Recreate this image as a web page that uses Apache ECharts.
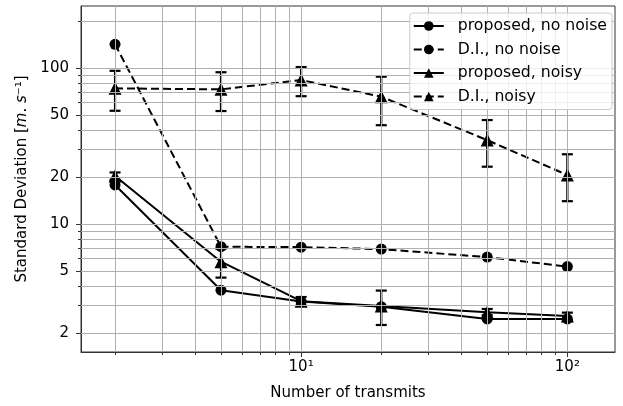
<!DOCTYPE html>
<html>
<head>
<meta charset="utf-8">
<script src="https://cdn.jsdelivr.net/npm/echarts@6/dist/echarts.min.js"></script>
<style>
  html, body { margin: 0; padding: 0; background: #fff; }
  #chart { width: 623px; height: 406px; }
</style>
</head>
<body>
<div id="chart"></div>
<script>
// number of transmits
var transmits = [2, 5, 10, 20, 50, 100];

// standard deviation values
var propNoNoise = [17.8, 3.76, 3.18, 2.95, 2.46, 2.46];
var diNoNoise = [142, 7.15, 7.1, 6.9, 6.13, 5.33];
var propNoisy = [20.3, 5.73, 3.2, 2.98, 2.72, 2.57];
var propNoisyLow = [19.2, 4.53, 3.0, 2.25, 2.6, 2.42];
var propNoisyHigh = [21.4, 6.93, 3.4, 3.74, 2.85, 2.7];
var diNoisy = [74.1, 73, 83.8, 65.5, 34.5, 20.6];
var diNoisyLow = [53.2, 53, 66, 43, 23.3, 14];
var diNoisyHigh = [96, 94, 101.5, 88, 46.4, 28];

// tick labels / grid positions
var yTickLabels = [2, 5, 10, 20, 50, 100];
var yMinorTicks = [3, 4, 6, 7, 8, 9, 30, 40, 60, 70, 80, 90, 200];
var xMinorTicks = [2, 3, 4, 5, 6, 7, 8, 9, 20, 30, 40, 50, 60, 70, 80, 90];
var yGrid = [2, 3, 4, 5, 6, 7, 8, 9, 10, 20, 30, 40, 50, 60, 70, 80, 90, 100, 200];
var xGrid = [2, 3, 4, 5, 6, 7, 8, 9, 10, 20, 30, 40, 50, 60, 70, 80, 90, 100];

var font = 'DejaVu Sans';
var xMin = 1.49, xMax = 151;
var yMin = 1.51, yMax = 250;

function pairs(xs, ys) {
    var out = [];
    for (var i = 0; i < xs.length; i++) {
        out.push([xs[i], ys[i]]);
    }
    return out;
}

function triples(xs, lo, hi) {
    var out = [];
    for (var i = 0; i < xs.length; i++) {
        out.push([xs[i], lo[i], hi[i]]);
    }
    return out;
}

// vertical error bar with caps
function errorBar(params, api) {
    var x = api.value(0);
    var p1 = api.coord([x, api.value(1)]);
    var p2 = api.coord([x, api.value(2)]);
    var hw = 5.5;
    var style = { stroke: '#000', lineWidth: 2.2 };
    return {
        type: 'group',
        children: [
            { type: 'line', shape: { x1: p1[0], y1: p1[1], x2: p2[0], y2: p2[1] }, style: style },
            { type: 'line', shape: { x1: p1[0] - hw, y1: p1[1], x2: p1[0] + hw, y2: p1[1] }, style: style },
            { type: 'line', shape: { x1: p2[0] - hw, y1: p2[1], x2: p2[0] + hw, y2: p2[1] }, style: style }
        ]
    };
}

var gridLines = [];
for (var i = 0; i < yGrid.length; i++) gridLines.push({ yAxis: yGrid[i] });
for (var j = 0; j < xGrid.length; j++) gridLines.push({ xAxis: xGrid[j] });

var supers = { 1: '\u00b9', 2: '\u00b2', 0: '\u2070' };

var chart = echarts.init(document.getElementById('chart'));
var option = {
    animation: false,
    textStyle: { fontFamily: font },
    grid: {
        left: 81, right: 8, top: 6, bottom: 54,
        show: true, borderColor: '#333', borderWidth: 1
    },
    legend: {
        orient: 'vertical',
        right: 11,
        top: 13,
        z: 10,
        data: ['proposed, no noise', 'D.I., no noise', 'proposed, noisy', 'D.I., noisy'],
        itemWidth: 30,
        itemHeight: 12,
        itemGap: 7.5,
        padding: [5, 5, 5, 3],
        borderColor: '#cccccc',
        borderWidth: 1,
        borderRadius: 3,
        backgroundColor: 'rgba(255,255,255,0.8)',
        textStyle: { fontFamily: font, fontSize: 15.7, color: '#000', padding: [0, 0, 0, 9] }
    },
    xAxis: [{
        type: 'log',
        min: xMin,
        max: xMax,
        name: 'Number of transmits',
        nameLocation: 'middle',
        nameGap: 34,
        nameTextStyle: { fontFamily: font, fontSize: 15, color: '#000' },
        axisLine: { show: true, lineStyle: { color: '#333', width: 1 } },
        axisTick: { show: true, length: 5, customValues: [10, 100], lineStyle: { color: '#333' } },
        axisLabel: {
            fontFamily: font, fontSize: 15, color: '#000', margin: 8,
            customValues: [10, 100],
            formatter: function (v) {
                var e = Math.round(Math.log(v) / Math.LN10);
                return '10' + (supers[e] || '');
            }
        },
        splitLine: { show: false }
    }, {
        // minor ticks only
        type: 'log',
        min: xMin,
        max: xMax,
        position: 'bottom',
        axisLine: { show: false },
        axisTick: { show: true, length: 3, customValues: xMinorTicks, lineStyle: { color: '#333' } },
        axisLabel: { show: false },
        splitLine: { show: false }
    }],
    yAxis: [{
        type: 'log',
        min: yMin,
        max: yMax,
        name: 'Standard Deviation [{i|m}. {i|s}\u207b\u00b9]',
        nameLocation: 'middle',
        nameGap: 48,
        nameTextStyle: {
            fontFamily: font, fontSize: 15, color: '#000',
            rich: { i: { fontFamily: font, fontSize: 15, fontStyle: 'italic', color: '#000' } }
        },
        axisLine: { show: true, lineStyle: { color: '#333', width: 1 } },
        axisTick: { show: true, length: 5, customValues: yTickLabels, lineStyle: { color: '#333' } },
        axisLabel: {
            fontFamily: font, fontSize: 15, color: '#000', margin: 12,
            customValues: yTickLabels,
            formatter: function (v) { return String(Math.round(v)); }
        },
        splitLine: { show: false }
    }, {
        // minor ticks only
        type: 'log',
        min: yMin,
        max: yMax,
        position: 'left',
        axisLine: { show: false },
        axisTick: { show: true, length: 3, customValues: yMinorTicks, lineStyle: { color: '#333' } },
        axisLabel: { show: false },
        splitLine: { show: false }
    }],
    series: [
        {
            type: 'line',
            name: 'grid',
            data: [[10, 10]],
            symbol: 'none',
            lineStyle: { width: 0 },
            silent: true,
            z: 1,
            markLine: {
                silent: true,
                symbol: 'none',
                label: { show: false },
                lineStyle: { color: '#b0b0b0', width: 1, type: 'solid' },
                data: gridLines
            }
        },
        {
            type: 'line',
            name: 'proposed, no noise',
            data: pairs(transmits, propNoNoise),
            symbol: 'circle',
            symbolSize: 11,
            itemStyle: { color: '#000' },
            lineStyle: { color: '#000', width: 2, type: 'solid' },
            z: 3
        },
        {
            type: 'line',
            name: 'D.I., no noise',
            data: pairs(transmits, diNoNoise),
            symbol: 'circle',
            symbolSize: 11,
            itemStyle: { color: '#000' },
            lineStyle: { color: '#000', width: 2, type: [8, 4] },
            z: 3
        },
        {
            type: 'line',
            name: 'proposed, noisy',
            data: pairs(transmits, propNoisy),
            symbol: 'triangle',
            symbolSize: 13,
            itemStyle: { color: '#000' },
            lineStyle: { color: '#000', width: 2, type: 'solid' },
            z: 3
        },
        {
            type: 'line',
            name: 'D.I., noisy',
            data: pairs(transmits, diNoisy),
            symbol: 'triangle',
            symbolSize: 13,
            itemStyle: { color: '#000' },
            lineStyle: { color: '#000', width: 2, type: [8, 4] },
            z: 3
        },
        {
            type: 'custom',
            name: 'err proposed',
            renderItem: errorBar,
            encode: { x: 0, y: [1, 2] },
            data: triples(transmits, propNoisyLow, propNoisyHigh),
            z: 4
        },
        {
            type: 'custom',
            name: 'err D.I.',
            renderItem: errorBar,
            encode: { x: 0, y: [1, 2] },
            data: triples(transmits, diNoisyLow, diNoisyHigh),
            z: 4
        }
    ]
};
chart.setOption(option);
</script>
</body>
</html>
